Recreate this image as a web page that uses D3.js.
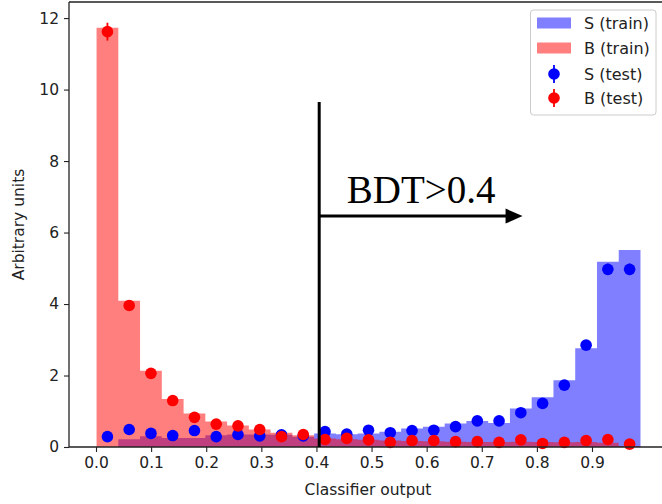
<!DOCTYPE html>
<html>
<head>
<meta charset="utf-8">
<script src="https://cdnjs.cloudflare.com/ajax/libs/d3/7.8.5/d3.min.js"></script>
<style>
  body { margin: 0; background: #fff; }
  svg { display: block; font-family: "DejaVu Sans", sans-serif; }
</style>
</head>
<body>
<svg id="chart" width="662" height="504"></svg>
<script>
// histogram bins (25 bins over the classifier range)
var binLow = 0.001;
var binHigh = 0.988;
var nBins = 25;

// S (train) / B (train) bin heights
var sTrain = [0, 0.22, 0.30, 0.25, 0.25, 0.33, 0.35, 0.35, 0.34, 0.29, 0.38, 0.36, 0.38,
              0.43, 0.52, 0.57, 0.66, 0.73, 0.67, 1.08, 1.39, 1.87, 2.76, 5.18, 5.51];
var bTrain = [11.73, 4.09, 2.13, 1.34, 0.94, 0.71, 0.60, 0.49, 0.40, 0.33, 0.24, 0.22, 0.20,
              0.18, 0.17, 0.16, 0.15, 0.14, 0.14, 0.15, 0.14, 0.13, 0.14, 0.12, 0.03];

// S (test) / B (test) points and errors
var sTest = [0.29, 0.49, 0.38, 0.32, 0.46, 0.29, 0.35, 0.31, 0.34, 0.31, 0.43, 0.36, 0.47,
             0.40, 0.46, 0.47, 0.57, 0.73, 0.73, 0.96, 1.22, 1.73, 2.85, 4.97, 4.97];
var sErr = [0.04, 0.05, 0.04, 0.04, 0.05, 0.04, 0.04, 0.04, 0.04, 0.04, 0.05, 0.04, 0.05,
            0.05, 0.05, 0.05, 0.06, 0.06, 0.06, 0.07, 0.08, 0.10, 0.12, 0.16, 0.16];
var bTest = [11.62, 3.96, 2.06, 1.30, 0.83, 0.64, 0.59, 0.49, 0.29, 0.35, 0.21, 0.24, 0.20,
             0.13, 0.18, 0.18, 0.15, 0.15, 0.13, 0.20, 0.10, 0.13, 0.18, 0.21, 0.08];
var bErr = [0.25, 0.15, 0.10, 0.08, 0.07, 0.06, 0.06, 0.05, 0.04, 0.04, 0.03, 0.04, 0.03,
            0.03, 0.03, 0.03, 0.03, 0.03, 0.03, 0.03, 0.02, 0.03, 0.03, 0.03, 0.02];

var xTicks = [0.0, 0.1, 0.2, 0.3, 0.4, 0.5, 0.6, 0.7, 0.8, 0.9];
var yTicks = [0, 2, 4, 6, 8, 10, 12];

var cut = 0.405;
var names = ["S (train)", "B (train)", "S (test)", "B (test)"];

var svg = d3.select("#chart");

var left = 69, topY = 2, bottom = 447;
var dotR = 5.8;

var x = d3.scaleLinear().domain([-0.049, 1.037]).range([left, 667.5]);
var y = d3.scaleLinear().domain([0, 12.45]).range([bottom, topY]);

var width = (binHigh - binLow) / nBins;
var edges = d3.range(nBins + 1).map(function(k) { return binLow + k * width; });
var centers = d3.range(nBins).map(function(k) { return binLow + (k + 0.5) * width; });

// stepfilled histogram as an area
function histArea(vals) {
    var pts = [];
    for (var k = 0; k < vals.length; k++) {
        pts.push([edges[k], vals[k]]);
        pts.push([edges[k + 1], vals[k]]);
    }
    return d3.area()
        .x(function(d) { return x(d[0]); })
        .y0(y(0))
        .y1(function(d) { return y(d[1]); })(pts);
}

svg.append("path").attr("d", histArea(sTrain)).attr("fill", "blue").attr("fill-opacity", 0.5);
svg.append("path").attr("d", histArea(bTrain)).attr("fill", "red").attr("fill-opacity", 0.5);

function drawPoints(vals, errs, color) {
    var g = svg.append("g");
    g.selectAll("line").data(vals).enter().append("line")
        .attr("x1", function(d, i) { return x(centers[i]); })
        .attr("x2", function(d, i) { return x(centers[i]); })
        .attr("y1", function(d, i) { return y(d - errs[i]); })
        .attr("y2", function(d, i) { return y(d + errs[i]); })
        .attr("stroke", color).attr("stroke-width", 1.8);
    g.selectAll("circle").data(vals).enter().append("circle")
        .attr("cx", function(d, i) { return x(centers[i]); })
        .attr("cy", function(d) { return y(d); })
        .attr("r", dotR)
        .attr("fill", color);
}
drawPoints(sTest, sErr, "blue");
drawPoints(bTest, bErr, "red");

// axes
var xAxis = d3.axisBottom(x).tickValues(xTicks).tickFormat(d3.format(".1f")).tickSize(5).tickPadding(5);
var yAxis = d3.axisLeft(y).tickValues(yTicks).tickFormat(d3.format("d")).tickSize(5).tickPadding(5);

var gx = svg.append("g").attr("transform", "translate(0," + bottom + ")").call(xAxis);
var gy = svg.append("g").attr("transform", "translate(" + left + ",0)").call(yAxis);
[gx, gy].forEach(function(g) {
    g.select(".domain").remove();
    g.selectAll("line").attr("stroke", "#222").attr("stroke-width", 1.1);
    g.selectAll("text").attr("fill", "#222").style("font-size", "15.5px").style("font-family", "DejaVu Sans");
});

// frame
svg.append("line").attr("x1", left).attr("x2", 662).attr("y1", bottom).attr("y2", bottom).attr("stroke", "#222").attr("stroke-width", 1.3);
svg.append("line").attr("x1", left).attr("x2", 662).attr("y1", topY).attr("y2", topY).attr("stroke", "#222").attr("stroke-width", 1.3);
svg.append("line").attr("x1", left).attr("x2", left).attr("y1", topY).attr("y2", bottom).attr("stroke", "#222").attr("stroke-width", 1.3);

svg.append("text")
    .attr("x", 368).attr("y", 495)
    .attr("text-anchor", "middle")
    .style("font-size", "15.5px").attr("fill", "#222")
    .text("Classifier output");

svg.append("text")
    .attr("transform", "translate(24," + (topY + bottom) / 2 + ") rotate(-90)")
    .attr("text-anchor", "middle")
    .style("font-size", "15.5px").attr("fill", "#222")
    .text("Arbitrary units");

// cut annotation
svg.append("line")
    .attr("x1", x(cut)).attr("x2", x(cut))
    .attr("y1", y(0)).attr("y2", y(9.65))
    .attr("stroke", "black").attr("stroke-width", 3);

var arrowY = y(6.46);
var tipX = x(0.774);
svg.append("line")
    .attr("x1", x(cut)).attr("x2", tipX - 14)
    .attr("y1", arrowY).attr("y2", arrowY)
    .attr("stroke", "black").attr("stroke-width", 3);
svg.append("path")
    .attr("d", "M" + tipX + "," + arrowY + "L" + (tipX - 17) + "," + (arrowY - 7.5) + "L" + (tipX - 17) + "," + (arrowY + 7.5) + "Z")
    .attr("fill", "black");

svg.append("text")
    .attr("x", x(0.455)).attr("y", y(6.83))
    .style("font-family", "'Liberation Serif', serif")
    .style("font-size", "39px")
    .attr("fill", "black")
    .text("BDT>0.4");

// legend
var lg = svg.append("g");
lg.append("rect")
    .attr("x", 530.5).attr("y", 10).attr("width", 125.5).attr("height", 105)
    .attr("rx", 3).attr("fill", "white").attr("fill-opacity", 0.85)
    .attr("stroke", "#cccccc").attr("stroke-width", 1);

var rowY = [23, 48, 74, 98];
var swatch = [["blue", "patch"], ["red", "patch"], ["blue", "point"], ["red", "point"]];
for (var j = 0; j < names.length; j++) {
    if (swatch[j][1] == "patch") {
        lg.append("rect")
            .attr("x", 537).attr("y", rowY[j] - 5.5).attr("width", 34).attr("height", 11)
            .attr("fill", swatch[j][0]).attr("fill-opacity", 0.5);
    } else {
        lg.append("line")
            .attr("x1", 554).attr("x2", 554).attr("y1", rowY[j] - 9).attr("y2", rowY[j] + 9)
            .attr("stroke", swatch[j][0]).attr("stroke-width", 1.8);
        lg.append("circle")
            .attr("cx", 554).attr("cy", rowY[j]).attr("r", dotR)
            .attr("fill", swatch[j][0]);
    }
    lg.append("text")
        .attr("x", 584).attr("y", rowY[j]).attr("dy", "0.35em")
        .style("font-size", "16px").attr("fill", "#222")
        .text(names[j]);
}
</script>
</body>
</html>
